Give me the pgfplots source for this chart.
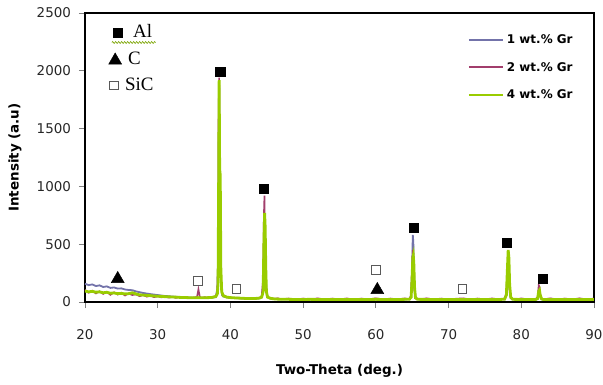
\documentclass[border=0pt]{standalone}
\usepackage{pgfplots}
\pgfplotsset{compat=1.18}
\usepackage{fontspec}
\setmainfont{DejaVu Sans}
\newfontfamily\serifa{Liberation Serif}
\usetikzlibrary{decorations.pathmorphing}
\definecolor{cblue}{HTML}{7373AA}
\definecolor{cmag}{HTML}{A23E6C}
\definecolor{cgreen}{HTML}{99CC00}
\definecolor{tickgray}{HTML}{808080}
\begin{document}
\begin{tikzpicture}
\path[use as bounding box] (-85bp,-83bp) rectangle (518bp,302bp);
\begin{axis}[
  at={(0,0)}, anchor=south west,
  scale only axis, width=509bp, height=289bp,
  xmin=20, xmax=90, ymin=0, ymax=2500,
  xtick={20,30,...,90}, ytick={0,500,...,2500},
  tick align=outside, xtick pos=bottom, ytick pos=left,
  major tick length=6bp,
  every tick/.style={tickgray, line width=0.8bp},
  axis line style={black, line width=1.6bp},
  /pgf/number format/assume math mode=true,
  /pgf/number format/1000 sep={},
  ticklabel style={font=\fontsize{13.5}{15}\selectfont, text=black!85},
  xticklabel style={yshift=-18bp},
  yticklabel style={xshift=-4.5bp},
  xlabel={\textbf{Two-Theta (deg.)}},
  ylabel={\textbf{Intensity (a.u)}},
  label style={font=\fontsize{13.5}{16}\selectfont},
  xlabel style={at={(axis description cs:0.5,-0.2388)}, anchor=center},
  ylabel style={at={(axis description cs:-0.1375,0.5)}, anchor=center},
  legend style={draw=none, fill=none, at={(axis description cs:0.752,0.925)}, anchor=north west,
    font=\bfseries\fontsize{12}{14}\selectfont, row sep=17bp, inner sep=0pt,
    column sep=3bp, nodes={inner sep=0pt}},
  legend cell align=left,
  legend image code/.code={\draw[#1, line width=2bp] (0bp,0bp) -- (34bp,0bp);},
  clip=false,
]
\addplot[cblue, line width=1.8bp] coordinates {
(20,158)(20.5,146)(21,152)(21.5,138)(22,144)(22.5,130)(23,135)(23.5,122)(24,126)(24.5,116)
(25,118)(25.5,108)(26,104)(26.5,102)(27,92)(27.5,85)(28,78)(28.5,73)(29,68)(29.5,64)
(30,60)(30.5,56)(31,52)(31.5,50)(32,47)(32.5,45)(33,43)(33.5,41)(34,40)(34.5,38)
(35,37)(35.5,37)(36,36)(36.5,36)(37,36)(37.5,38)(38,42)(38.2,120)(38.28,300)(38.37,800)
(38.45,1850)(38.52,900)(38.6,500)(38.7,150)(38.85,60)(39,48)(39.5,40)(40,36)(40.5,35)(41,33)
(41.5,32)(42,30)(42.5,30)(43,29)(43.5,30)(44,32)(44.3,40)(44.5,120)(44.58,300)(44.68,700)
(44.76,400)(44.86,200)(45,60)(45.2,38)(45.5,30)(46,26)(47,24)(48,23)(50,22)(52,22)
(54,22)(56,22)(58,22)(60,22)(62,22)(64,22)(64.6,24)(64.85,50)(64.98,250)(65.08,580)
(65.15,520)(65.22,300)(65.32,120)(65.45,35)(65.7,24)(66,22)(68,22)(70,22)(72,22)(74,22)
(76,22)(77.7,24)(77.95,60)(78.1,250)(78.2,400)(78.3,300)(78.4,120)(78.55,35)(78.8,24)(80,22)
(82,22)(82.25,28)(82.4,80)(82.5,90)(82.6,50)(82.8,24)(83,22)(86,22)(90,22)};
\addlegendentry{1 wt.\% Gr}
\addplot[cmag, line width=1.6bp] coordinates {
(20,105)(20.5,80)(21,98)(21.5,74)(22,92)(22.5,70)(23,88)(23.5,62)(24,84)(24.5,64)
(25,80)(25.5,56)(26,74)(26.5,60)(27,66)(27.5,50)(28,60)(28.5,46)(29,54)(29.5,42)
(30,50)(30.5,40)(31,46)(31.5,38)(32,44)(32.5,36)(33,42)(33.5,34)(34,40)(34.5,34)
(35,40)(35.4,42)(35.6,110)(35.8,42)(36,36)(36.5,42)(37,34)(37.5,44)(38,50)(38.2,90)
(38.3,300)(38.37,1650)(38.45,1940)(38.52,1200)(38.6,700)(38.7,220)(38.85,80)(39,60)(39.5,44)(40,40)
(40.5,34)(41,38)(41.5,30)(42,34)(42.5,28)(43,32)(43.5,30)(44,36)(44.3,50)(44.5,200)
(44.6,750)(44.68,920)(44.76,500)(44.86,200)(45,70)(45.2,40)(45.5,34)(46,28)(46.5,32)(47,24)
(48,30)(49,20)(50,30)(51,22)(52,32)(53,21)(54,30)(55,22)(56,31)(57,20)
(58,30)(59,22)(60,32)(61,21)(62,30)(63,22)(64,31)(64.6,24)(64.85,60)(64.98,300)
(65.08,450)(65.15,420)(65.22,250)(65.32,100)(65.45,40)(65.7,30)(66,23)(67,32)(68,22)(69,30)
(70,21)(71,28)(72,32)(73,22)(74,30)(75,22)(76,31)(77,22)(77.7,30)(77.95,80)
(78.1,277)(78.2,260)(78.3,200)(78.4,90)(78.55,35)(78.8,28)(79,22)(80,31)(81,22)(82,28)
(82.25,40)(82.4,147)(82.5,130)(82.6,70)(82.8,30)(83,22)(84,32)(85,21)(86,30)(87,22)
(88,32)(89,22)(90,30)};
\addlegendentry{2 wt.\% Gr}
\addplot[cgreen, line width=2.8bp] coordinates {
(20,95)(20.5,88)(21,92)(21.5,85)(22,88)(22.5,80)(23,84)(23.5,76)(24,78)(24.5,72)
(25,75)(25.5,70)(26,72)(26.5,80)(27,70)(27.5,62)(28,60)(28.5,57)(29,55)(29.5,52)
(30,50)(30.5,48)(31,46)(31.5,45)(32,43)(32.5,42)(33,40)(33.5,39)(34,38)(34.5,37)
(35,36)(35.5,38)(36,36)(36.5,37)(37,38)(37.5,40)(38,48)(38.2,70)(38.3,160)(38.37,900)
(38.45,1920)(38.52,1150)(38.6,1100)(38.68,300)(38.8,90)(39,55)(39.5,42)(40,38)(40.5,36)(41,34)
(41.5,33)(42,31)(42.5,30)(43,30)(43.5,31)(44,34)(44.3,42)(44.5,90)(44.6,500)(44.7,770)
(44.78,650)(44.86,300)(44.95,90)(45.1,42)(45.5,32)(46,27)(46.5,25)(47,24)(48,23)(49,22)
(50,22)(51,23)(52,22)(53,22)(54,21)(55,22)(56,22)(57,21)(58,22)(59,22)
(60,23)(61,22)(62,22)(63,22)(64,23)(64.6,24)(64.85,40)(64.98,200)(65.08,380)(65.15,400)
(65.22,340)(65.32,130)(65.45,35)(65.7,24)(66,23)(67,22)(68,22)(69,22)(70,22)(71,21)
(72,22)(73,22)(74,22)(75,21)(76,22)(77,22)(77.7,24)(77.95,60)(78.1,300)(78.2,450)
(78.3,380)(78.4,150)(78.55,40)(78.8,24)(79,23)(80,22)(81,22)(82,22)(82.25,30)(82.4,95)
(82.5,104)(82.6,60)(82.8,26)(83,22)(84,22)(85,22)(86,22)(87,22)(88,22)(89,22)(90,22)};
\addlegendentry{4 wt.\% Gr}
% phase markers
\addplot[only marks, mark=square*, mark size=4.6bp, mark options={fill=black, draw=black}, forget plot]
  coordinates {(38.6,1993)(44.6,979)(65.2,641)(78.0,511)(82.9,199)(24.54,2331)};
\addplot[only marks, mark=square, mark size=4.3bp, mark options={fill=white, draw=black!65, line width=0.8bp}, forget plot]
  coordinates {(35.5,182)(40.8,113)(60.0,277)(71.9,113)(23.95,1872)};
\addplot[only marks, mark=triangle*, mark size=7.5bp, mark options={fill=black, draw=black}, forget plot]
  coordinates {(24.5,200)(60.2,105)(24.15,2090)};
\node[anchor=base west, inner sep=0pt, font=\serifa\fontsize{19}{22}\selectfont] at (axis cs:26.6,2288) {Al};
\node[anchor=base west, inner sep=0pt, font=\serifa\fontsize{19}{22}\selectfont] at (axis cs:25.9,2054) {C};
\node[anchor=base west, inner sep=0pt, font=\serifa\fontsize{19}{22}\selectfont] at (axis cs:25.5,1829) {SiC};
\draw[cgreen!80!black, line width=0.6bp, decorate, decoration={zigzag, amplitude=1bp, segment length=3bp}]
  (axis cs:23.7,2245) -- (axis cs:29.7,2245);
\end{axis}
\end{tikzpicture}
\end{document}
